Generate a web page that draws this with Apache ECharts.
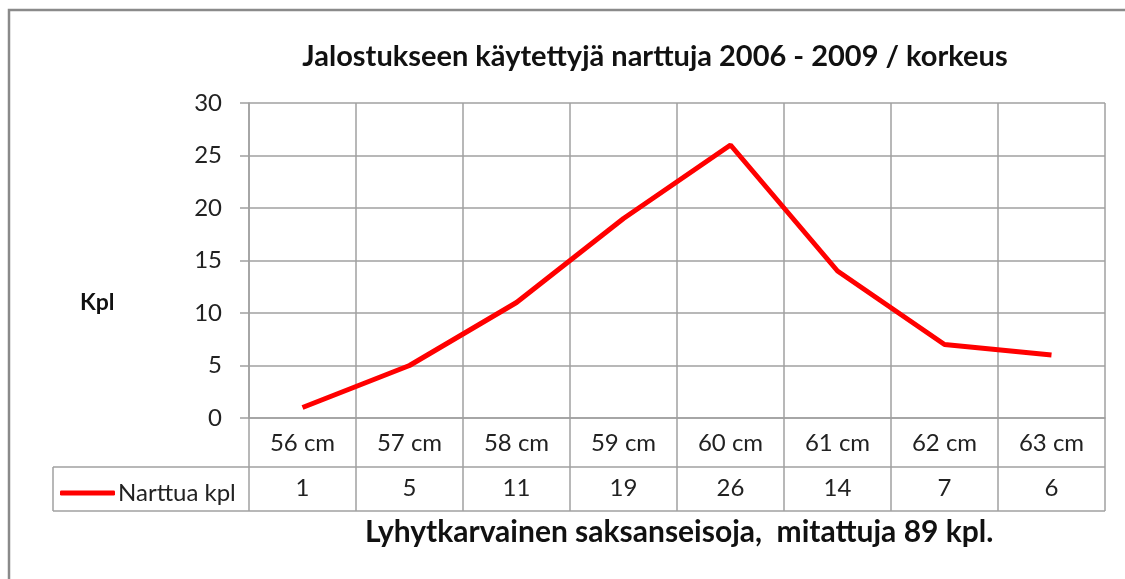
<!DOCTYPE html>
<html>
<head>
<meta charset="utf-8">
<script src="https://cdn.jsdelivr.net/npm/echarts@6/dist/echarts.min.js"></script>
<style>
  html, body { margin: 0; padding: 0; background: #fff; }
  #main { width: 1125px; height: 579px; }
</style>
</head>
<body>
<div id="main"></div>
<script type="text/javascript">
  // data
  var categories = ['56 cm', '57 cm', '58 cm', '59 cm', '60 cm', '61 cm', '62 cm', '63 cm'];
  var narttua = [1, 5, 11, 19, 26, 14, 7, 6];
  var yTicks = [0, 5, 10, 15, 20, 25, 30];

  var seriesName = 'Narttua kpl';
  var titleText = 'Jalostukseen käytettyjä narttuja 2006 - 2009 / korkeus';
  var footText = 'Lyhytkarvainen saksanseisoja,  mitattuja 89 kpl.';

  // layout
  var gLeft = 249, gTop = 103, gWidth = 856, gHeight = 315;
  var row1 = 49, row2 = 44, legendLeft = 53;
  var lineColor = '#a0a0a0';
  var font = 'Lato, "Open Sans", sans-serif';

  var myChart = echarts.init(document.getElementById('main'));

  // table lines of the data table under the plot
  var tableBottom = gTop + gHeight + row1 + row2;
  var colW = gWidth / categories.length;
  var lines = [];
  function hline(x1, x2, y) {
    lines.push({ type: 'line', silent: true, shape: { x1: x1, y1: y, x2: x2, y2: y }, style: { stroke: lineColor, lineWidth: 1.5 } });
  }
  function vline(x, y1, y2) {
    lines.push({ type: 'line', silent: true, shape: { x1: x, y1: y1, x2: x, y2: y2 }, style: { stroke: lineColor, lineWidth: 1.5 } });
  }
  for (var i = 0; i <= categories.length; i++) {
    vline(gLeft + i * colW, gTop + gHeight, tableBottom);
  }
  hline(gLeft, gLeft + gWidth, gTop + gHeight + row1);
  hline(legendLeft, gLeft, gTop + gHeight + row1);
  hline(legendLeft, gLeft + gWidth, tableBottom);
  vline(legendLeft, gTop + gHeight + row1, tableBottom);
  // outer frame
  lines.push({ type: 'rect', silent: true, shape: { x: 9, y: 10, width: 1130, height: 600 }, style: { fill: null, stroke: '#8a8a8a', lineWidth: 2.5 } });
  // y axis title
  lines.push({ type: 'text', left: 80, top: 291, style: { text: 'Kpl', font: 'bold 23px ' + font, fill: '#111' } });
  // footer text
  lines.push({ type: 'text', left: 365, top: 517, style: { text: footText, font: 'bold 30px ' + font, fill: '#111' } });

  var option = {
    animation: false,
    backgroundColor: '#fff',
    title: {
      text: titleText,
      left: 650,
      textAlign: 'center',
      top: 37,
      textStyle: { fontFamily: font, fontWeight: 'bold', fontSize: 29, color: '#111' }
    },
    legend: {
      data: [seriesName],
      left: 55,
      top: 476,
      icon: 'roundRect',
      itemWidth: 55,
      itemHeight: 5,
      itemGap: 4,
      textStyle: { fontFamily: font, fontSize: 24, color: '#222', padding: [0, 0, 0, -2] }
    },
    grid: { left: gLeft, top: gTop, width: gWidth, height: gHeight, containLabel: false },
    xAxis: [
      {
        type: 'category',
        data: categories,
        boundaryGap: true,
        axisLine: { lineStyle: { color: lineColor, width: 1.5 } },
        axisTick: { show: false },
        splitLine: { show: true, interval: 0, lineStyle: { color: lineColor, width: 1.5 } },
        axisLabel: { margin: 13, interval: 0, fontFamily: font, fontSize: 24, color: '#222' }
      },
      {
        type: 'category',
        data: narttua.map(String),
        position: 'bottom',
        offset: row1,
        boundaryGap: true,
        axisLine: { show: false },
        axisTick: { show: false },
        splitLine: { show: false },
        axisLabel: { margin: 9, interval: 0, fontFamily: font, fontSize: 24, color: '#222' }
      }
    ],
    yAxis: {
      type: 'value',
      min: yTicks[0],
      max: yTicks[yTicks.length - 1],
      interval: 5,
      axisLine: { show: true, lineStyle: { color: lineColor, width: 1.5 } },
      axisTick: { show: true, inside: false, length: 9, lineStyle: { color: lineColor, width: 1.5 } },
      splitLine: { show: true, lineStyle: { color: lineColor, width: 1.5 } },
      axisLabel: { margin: 27, fontFamily: font, fontSize: 24, color: '#222' }
    },
    series: [
      {
        name: seriesName,
        type: 'line',
        xAxisIndex: 0,
        data: narttua,
        symbol: 'none',
        lineStyle: { color: '#ff0000', width: 5 },
        itemStyle: { color: '#ff0000' }
      }
    ],
    graphic: lines
  };

  myChart.setOption(option);
</script>
</body>
</html>
